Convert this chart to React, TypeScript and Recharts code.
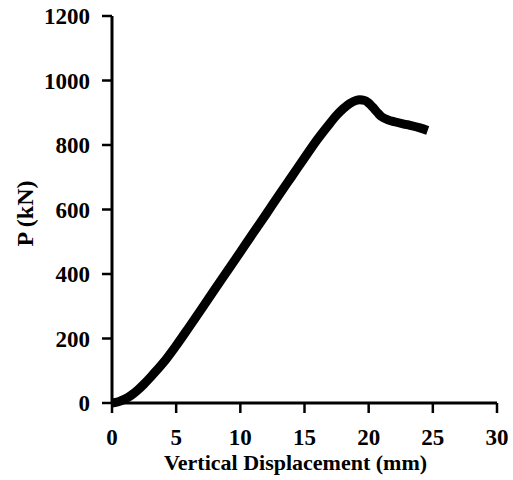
import React from 'react';
import { LineChart, Line, XAxis, YAxis, Label } from 'recharts';

// load-displacement readings (mm, kN)
const displacement = [
  0, 0.5, 1, 1.5, 2, 2.5, 3, 3.5, 4, 5, 6, 7, 8, 9, 10, 11, 12, 13, 14, 15, 16,
  17, 17.5, 18, 18.5, 19, 19.3, 19.7, 20, 20.3, 20.7, 21, 21.5, 22, 23, 24, 24.6,
];
const load = [
  0, 4, 12, 24, 40, 59, 80, 102, 125, 178, 235, 293, 352, 410, 468, 527, 585, 644,
  702, 760, 817, 868, 892, 912, 928, 938, 940, 938, 930, 918, 900, 888, 878, 872,
  863, 853, 845,
];

const xTicks = [0, 5, 10, 15, 20, 25, 30];
const yTicks = [0, 200, 400, 600, 800, 1000, 1200];

const data = displacement.map((d, i) => ({ d, p: load[i] }));

const font = '"Liberation Serif", "Times New Roman", serif';

const App = () => {
  return (
    <div style={{ position: 'absolute', left: 0, top: 0 }}>
      <LineChart
        width={513}
        height={480}
        data={data}
        margin={{ top: 16, right: 16, left: 0, bottom: 0 }}
      >
        <XAxis
          dataKey="d"
          type="number"
          domain={[0, 30]}
          ticks={xTicks}
          height={77}
          tickSize={10}
          tickMargin={16}
          axisLine={{ stroke: '#000', strokeWidth: 3 }}
          tickLine={{ stroke: '#000', strokeWidth: 2.5 }}
          tick={{ fill: '#000', fontSize: 23, fontWeight: 'bold', fontFamily: font }}
        >
          <Label
            value="Vertical Displacement (mm)"
            position="insideBottom"
            offset={10}
            dx={-9}
            style={{ fill: '#000', fontSize: 22, fontWeight: 'bold', fontFamily: font }}
          />
        </XAxis>
        <YAxis
          type="number"
          domain={[0, 1200]}
          ticks={yTicks}
          width={112}
          tickSize={10}
          tickMargin={12}
          axisLine={{ stroke: '#000', strokeWidth: 3 }}
          tickLine={{ stroke: '#000', strokeWidth: 2.5 }}
          tick={{ fill: '#000', fontSize: 23, fontWeight: 'bold', fontFamily: font }}
        >
          <Label
            content={({ viewBox }: any) => {
              const cx = viewBox.x + 25;
              const cy = viewBox.y + viewBox.height / 2 + 4;
              return (
                <text
                  x={cx}
                  y={cy}
                  transform={`rotate(-90 ${cx} ${cy})`}
                  textAnchor="middle"
                  dominantBaseline="central"
                  style={{ fill: '#000', fontSize: 24, fontWeight: 'bold', fontFamily: font }}
                >
                  P (kN)
                </text>
              );
            }}
          />
        </YAxis>
        <Line
          type="monotone"
          dataKey="p"
          stroke="#000"
          strokeWidth={9}
          dot={false}
          isAnimationActive={false}
        />
      </LineChart>
    </div>
  );
};

export default App;
